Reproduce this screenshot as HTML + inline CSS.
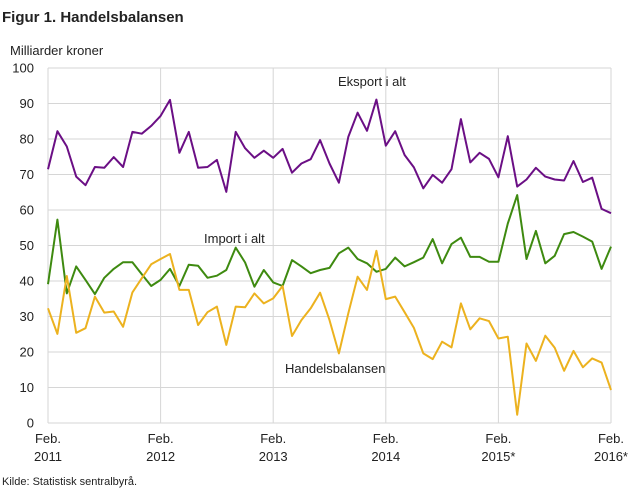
<!DOCTYPE html>
<html><head><meta charset="utf-8"><style>
body{margin:0;background:#fff;width:639px;height:489px;overflow:hidden;font-family:"Liberation Sans",sans-serif;}
svg text{font-family:"Liberation Sans",sans-serif;fill:#222;}
</style></head><body>
<svg id="chart" width="639" height="489" xmlns="http://www.w3.org/2000/svg">
<text x="2" y="22" font-size="15" font-weight="bold" fill="#222">Figur 1. Handelsbalansen</text>
<text x="10" y="55" font-size="13">Milliarder  kroner</text>
<text x="2" y="485" font-size="11">Kilde: Statistisk sentralbyrå.</text>
<g id="grid"></g><g id="series"></g><g id="labels"></g>
</svg>
<script>
const yTicks=[0,10,20,30,40,50,60,70,80,90,100];
const xTickLabels=[["Feb.","2011"],["Feb.","2012"],["Feb.","2013"],["Feb.","2014"],["Feb.","2015*"],["Feb.","2016*"]];
const eksport=[71.5,82.2,77.9,69.4,67,72.1,71.9,74.9,72.1,82,81.5,83.7,86.5,91,76.1,82,71.9,72.1,74.1,65.1,82,77.4,74.7,76.7,74.7,77.2,70.5,73.1,74.3,79.7,73.1,67.7,80.6,87.4,82.3,91.1,78.1,82.2,75.5,72,66.1,69.9,67.7,71.5,85.6,73.4,76.1,74.4,69.2,80.8,66.6,68.6,71.9,69.4,68.6,68.3,73.8,67.9,69.1,60.3,59.1];
const importSeries=[39.1,57.3,36.5,44.1,40.3,36.3,40.9,43.4,45.3,45.3,41.9,38.6,40.3,43.4,38.6,44.6,44.3,40.9,41.5,43.1,49.4,45.2,38.4,43.1,39.6,38.6,45.9,44.1,42.2,43.1,43.7,47.8,49.4,46.2,45,42.6,43.4,46.6,44.1,45.3,46.6,51.8,45,50.4,52.2,46.8,46.8,45.4,45.4,56.2,64.2,46.2,54.1,45,47.1,53.2,53.8,52.5,51.1,43.4,49.7];
const handel=[32.3,25.1,41.4,25.4,26.7,35.6,31.1,31.4,27.1,36.8,40.8,44.7,46.2,47.6,37.5,37.5,27.6,31.2,32.8,22,32.8,32.6,36.5,33.7,35.1,38.6,24.5,29,32.3,36.7,29,19.6,30.9,41.2,37.5,48.5,34.9,35.6,31.2,26.8,19.6,18,22.9,21.3,33.7,26.4,29.5,28.7,23.8,24.3,2.3,22.4,17.5,24.6,21.2,14.7,20.3,15.7,18.2,17,9.3];
const X0=48,X1=611,Y0=423,Y1=68;
const xs=i=>X0+(X1-X0)*i/60;
const ys=v=>Y0-(Y0-Y1)*v/100;
const NS="http://www.w3.org/2000/svg";
const grid=document.getElementById('grid'),ser=document.getElementById('series'),lab=document.getElementById('labels');
function mk(tag,attrs,parent){const e=document.createElementNS(NS,tag);for(const k in attrs)e.setAttribute(k,attrs[k]);parent.appendChild(e);return e;}
yTicks.forEach(v=>{
 const l=mk('line',{x1:X0,x2:X1,y1:ys(v),y2:ys(v),stroke:'#d6d6d6','stroke-width':1},grid);
 
 
 const t=mk('text',{x:34,y:ys(v)+4.5,'text-anchor':'end','font-size':13},grid);t.textContent=v;
 
 
});
xTickLabels.forEach((lb,k)=>{
 const x=xs(k*12);
 const l=mk('line',{x1:x,x2:x,y1:Y1,y2:Y0,stroke:'#d6d6d6','stroke-width':1},grid);
 
 
 const t1=mk('text',{x:x,y:443,'text-anchor':'middle','font-size':13},grid);t1.textContent=lb[0];
 
 
 const t2=mk('text',{x:x,y:461,'text-anchor':'middle','font-size':13},grid);t2.textContent=lb[1];
 
 
});
function line(data,color,name){
 const p=mk('polyline',{points:data.map((v,i)=>xs(i).toFixed(1)+','+ys(v).toFixed(1)).join(' '),fill:'none',stroke:color,'stroke-width':2,'stroke-linejoin':'round'},ser);
 
 
}
line(eksport,'#6b0f85','eksport-line');
line(importSeries,'#3e8a10','import-line');
line(handel,'#ecb21f','handelsbalanse-line');
[["Eksport i alt",338,86,'eksport-label'],["Import i alt",204,243,'import-label'],["Handelsbalansen",285,373,'handelsbalanse-label']].forEach(a=>{
 const t=mk('text',{x:a[1],y:a[2],'font-size':13},lab);t.textContent=a[0];
 
 
});
</script>
</body></html>
